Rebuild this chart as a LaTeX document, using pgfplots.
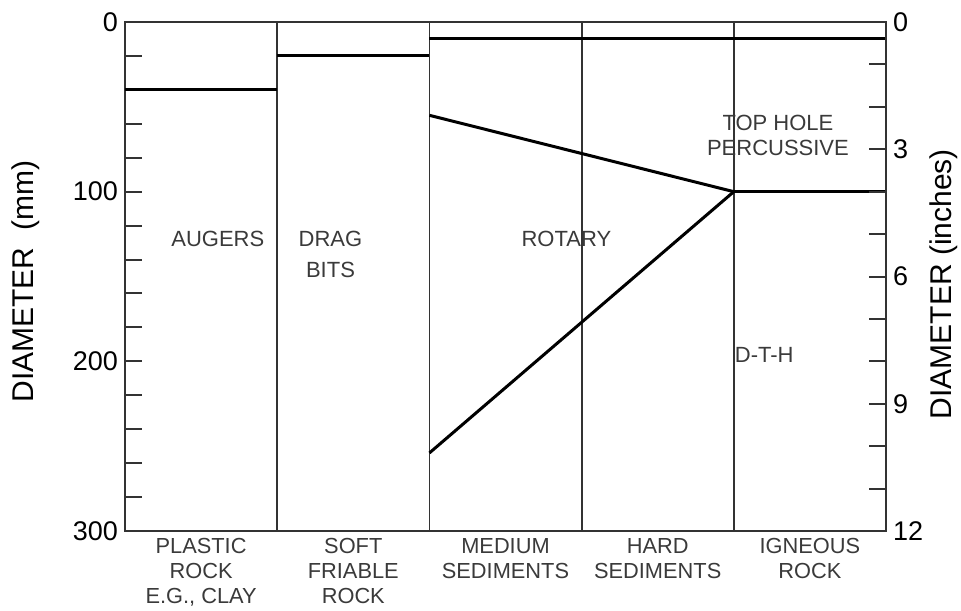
\documentclass[border=0pt]{standalone}
\usepackage{fontspec}
\setmainfont{Liberation Sans}
\usepackage{pgfplots}
\pgfplotsset{compat=1.18}

\definecolor{spine}{HTML}{333333}
\definecolor{txt}{HTML}{3A3A3A}

\begin{document}
\begin{tikzpicture}
\path[use as bounding box] (0,0) rectangle (480.5pt,305pt);
% left axis: diameter in mm, categories along x
\begin{axis}[
  at={(62.5pt,39.5pt)}, anchor=south west,
  scale only axis, width=380.5pt, height=254.5pt,
  xmin=0, xmax=5, ymin=0, ymax=300, y dir=reverse,
  axis line style={spine, line width=1pt},
  xtick={0.5,1.5,2.5,3.5,4.5},
  xticklabels={{PLASTIC\\ROCK\\E.G., CLAY},{SOFT\\FRIABLE\\ROCK},{MEDIUM\\SEDIMENTS},{HARD\\SEDIMENTS},{IGNEOUS\\ROCK}},
  xticklabel style={align=center, font=\fontsize{10.9}{12.5}\selectfont, text=txt},
  xtick pos=bottom,
  major x tick style={draw=none},
  ytick={0,100,200,300},
  minor ytick={20,40,60,80,120,140,160,180,220,240,260,280},
  ytick pos=left, tick align=inside,
  major tick length=8.5pt, minor tick length=8.5pt,
  every tick/.style={spine, line width=1pt},
  yticklabel style={font=\fontsize{13.5}{15}\selectfont},
  ylabel={DIAMETER\ \ (mm)},
  ylabel style={at={(axis description cs:-0.131,0.49)}, anchor=center, font=\fontsize{15}{18}\selectfont},
  /pgf/number format/assume math mode=true,
  clip=false,
]
% column separators
\addplot[spine, line width=0.9pt] coordinates {(1,0) (1,300)};
\addplot[spine, line width=0.9pt] coordinates {(2,0) (2,300)};
\addplot[spine, line width=0.9pt] coordinates {(3,0) (3,300)};
\addplot[spine, line width=0.9pt] coordinates {(4,0) (4,300)};
% method limits
\addplot[black, line width=1.5pt] coordinates {(0,40) (1,40)};
\addplot[black, line width=1.5pt] coordinates {(1,20) (2,20)};
\addplot[black, line width=1.5pt] coordinates {(2,10) (5,10)};
\addplot[black, line width=1.5pt] coordinates {(2,55) (4,100)};
\addplot[black, line width=1.5pt] coordinates {(2,254) (4,100)};
\addplot[black, line width=1.5pt] coordinates {(4,100) (5,100)};

\node[font=\fontsize{11}{12}\selectfont, text=txt] at (axis cs:0.61,128) {AUGERS};
\node[font=\fontsize{11}{15.5}\selectfont, text=txt, align=center] at (axis cs:1.35,137) {DRAG\\BITS};
\node[font=\fontsize{11}{12}\selectfont, text=txt] at (axis cs:2.9,128) {ROTARY};
\node[font=\fontsize{11}{12.5}\selectfont, text=txt, align=center] at (axis cs:4.29,67) {TOP HOLE\\PERCUSSIVE};
\node[font=\fontsize{11}{12}\selectfont, text=txt] at (axis cs:4.2,196) {D-T-H};
\end{axis}
% right axis: diameter in inches
\begin{axis}[
  at={(62.5pt,39.5pt)}, anchor=south west,
  scale only axis, width=380.5pt, height=254.5pt,
  xmin=0, xmax=5, ymin=0, ymax=12, y dir=reverse,
  axis x line=none, axis y line*=right,
  axis line style={spine, line width=1pt},
  ytick={0,3,6,9,12},
  minor ytick={1,2,4,5,7,8,10,11},
  tick align=inside,
  major tick length=8.5pt, minor tick length=8.5pt,
  every tick/.style={spine, line width=1pt},
  yticklabel style={font=\fontsize{13.5}{15}\selectfont},
  ylabel={DIAMETER (inches)},
  ylabel style={at={(axis description cs:1.076,0.485)}, anchor=center, rotate=0, font=\fontsize{15}{18}\selectfont},
  /pgf/number format/assume math mode=true,
]
\end{axis}
\end{tikzpicture}
\end{document}
